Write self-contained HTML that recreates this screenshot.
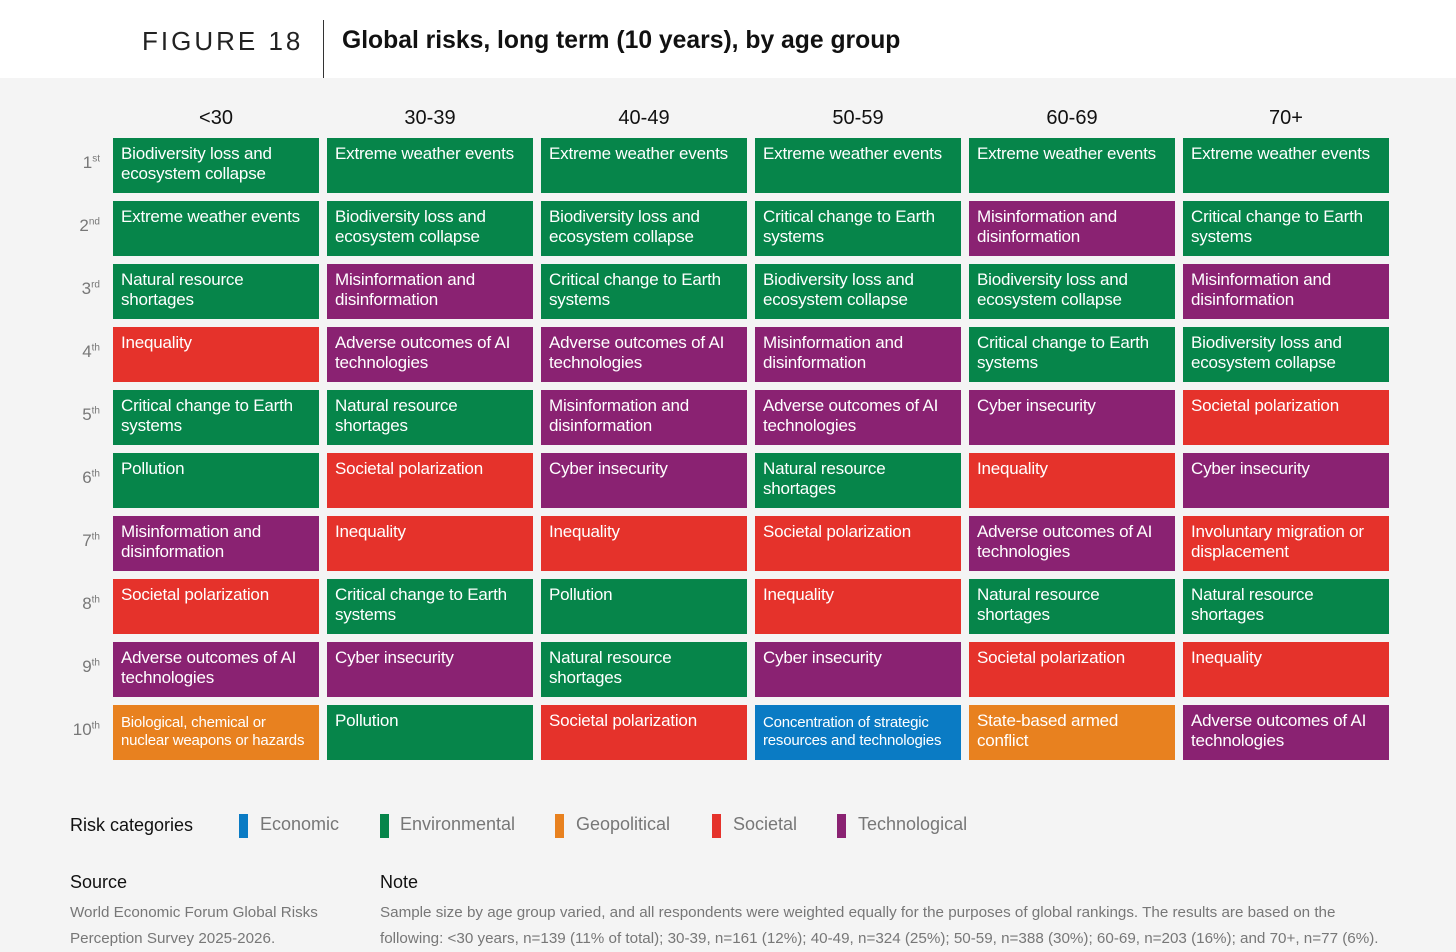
<!DOCTYPE html>
<html><head><meta charset="utf-8">
<style>
body{margin:0;width:1456px;height:942px;overflow:hidden;background:#f4f4f4;font-family:"Liberation Sans",Arial,sans-serif;position:relative}
.hdr{position:absolute;left:0;top:0;width:1456px;height:78px;background:#fff}
.abs{position:absolute}
.cell{position:absolute;width:206px;height:55px;color:#fff;font-size:17px;line-height:20px;padding:6px 8px;box-sizing:border-box;letter-spacing:-0.2px}
.cell.sm{font-size:15px;line-height:18px;padding-top:9px}
.colh{position:absolute;top:107px;width:206px;text-align:center;font-size:20px;color:#111}
.rowl{position:absolute;left:60px;width:40px;text-align:right;font-size:17px;color:#777}
.rowl sup{font-size:10px}
.leg{position:absolute;top:814px;font-size:18px;color:#777}
.sw{position:absolute;top:814px;width:9px;height:24px}
</style></head><body>
<div class="hdr"></div>
<div class="abs" style="left:142px;top:26px;font-size:26px;letter-spacing:3px;color:#222">FIGURE 18</div>
<div class="abs" style="left:323px;top:20px;width:1px;height:58px;background:#333"></div>
<div class="abs" style="left:342px;top:27px;font-size:24.7px;font-weight:bold;color:#111">Global risks, long term (10 years), by age group</div>
<div id="grid"></div>
<div class="abs" style="left:70px;top:815px;font-size:18px;color:#111">Risk categories</div>
<div class="sw" style="left:239px;background:#0a7bc4"></div>
<div class="leg" style="left:260px">Economic</div>
<div class="sw" style="left:380px;background:#06854a"></div>
<div class="leg" style="left:400px">Environmental</div>
<div class="sw" style="left:555px;background:#e8811f"></div>
<div class="leg" style="left:576px">Geopolitical</div>
<div class="sw" style="left:712px;background:#e5322b"></div>
<div class="leg" style="left:733px">Societal</div>
<div class="sw" style="left:837px;background:#8a2272"></div>
<div class="leg" style="left:858px">Technological</div>
<div class="abs" style="left:70px;top:872px;font-size:18px;color:#111">Source</div>
<div class="abs" style="left:70px;top:900px;font-size:15.2px;line-height:26px;color:#777;width:280px">World Economic Forum Global Risks Perception Survey 2025-2026.</div>
<div class="abs" style="left:380px;top:872px;font-size:18px;color:#111">Note</div>
<div class="abs" style="left:380px;top:900px;font-size:15.2px;line-height:26px;color:#777;width:1000px">Sample size by age group varied, and all respondents were weighted equally for the purposes of global rankings. The results are based on the following: &lt;30 years, n=139 (11% of total); 30-39, n=161 (12%); 40-49, n=324 (25%); 50-59, n=388 (30%); 60-69, n=203 (16%); and 70+, n=77 (6%).</div>
<script>
const ageGroups=["<30","30-39","40-49","50-59","60-69","70+"];
const ranks=["1","2","3","4","5","6","7","8","9","10"];
const rankSuffix=["st","nd","rd","th","th","th","th","th","th","th"];
const risks=[
["Biodiversity loss and ecosystem collapse","Extreme weather events","Natural resource shortages","Inequality","Critical change to Earth systems","Pollution","Misinformation and disinformation","Societal polarization","Adverse outcomes of AI technologies","Biological, chemical or nuclear weapons or hazards"],
["Extreme weather events","Biodiversity loss and ecosystem collapse","Misinformation and disinformation","Adverse outcomes of AI technologies","Natural resource shortages","Societal polarization","Inequality","Critical change to Earth systems","Cyber insecurity","Pollution"],
["Extreme weather events","Biodiversity loss and ecosystem collapse","Critical change to Earth systems","Adverse outcomes of AI technologies","Misinformation and disinformation","Cyber insecurity","Inequality","Pollution","Natural resource shortages","Societal polarization"],
["Extreme weather events","Critical change to Earth systems","Biodiversity loss and ecosystem collapse","Misinformation and disinformation","Adverse outcomes of AI technologies","Natural resource shortages","Societal polarization","Inequality","Cyber insecurity","Concentration of strategic resources and technologies"],
["Extreme weather events","Misinformation and disinformation","Biodiversity loss and ecosystem collapse","Critical change to Earth systems","Cyber insecurity","Inequality","Adverse outcomes of AI technologies","Natural resource shortages","Societal polarization","State-based armed conflict"],
["Extreme weather events","Critical change to Earth systems","Misinformation and disinformation","Biodiversity loss and ecosystem collapse","Societal polarization","Cyber insecurity","Involuntary migration or displacement","Natural resource shortages","Inequality","Adverse outcomes of AI technologies"]];
const categoryOf={"Biodiversity loss and ecosystem collapse":"env","Extreme weather events":"env","Natural resource shortages":"env","Critical change to Earth systems":"env","Pollution":"env","Inequality":"soc","Societal polarization":"soc","Involuntary migration or displacement":"soc","Misinformation and disinformation":"tech","Adverse outcomes of AI technologies":"tech","Cyber insecurity":"tech","Biological, chemical or nuclear weapons or hazards":"geo","State-based armed conflict":"geo","Concentration of strategic resources and technologies":"eco"};
const colors={env:"#06854a",soc:"#e5322b",tech:"#8a2272",geo:"#e8811f",eco:"#0a7bc4"};
const smallText=["Biological, chemical or nuclear weapons or hazards","Concentration of strategic resources and technologies"];
const g=document.getElementById('grid');
const colX=i=>113+i*214, rowY=j=>138+j*63;
ageGroups.forEach((a,i)=>{
  const h=document.createElement('div');h.className='colh';h.style.left=colX(i)+'px';h.textContent=a;
  
  
  g.appendChild(h);
});
ranks.forEach((r,j)=>{
  const l=document.createElement('div');l.className='rowl';l.style.top=(rowY(j)+15)+'px';
  l.innerHTML=r+'<sup>'+rankSuffix[j]+'</sup>';
  
  
  g.appendChild(l);
});
risks.forEach((col,i)=>col.forEach((t,j)=>{
  const c=document.createElement('div');
  c.className='cell'+(smallText.includes(t)?' sm':'');
  c.style.left=colX(i)+'px';c.style.top=rowY(j)+'px';
  c.style.background=colors[categoryOf[t]];
  c.textContent=t;
  
  
  g.appendChild(c);
}));
</script>
</body></html>
